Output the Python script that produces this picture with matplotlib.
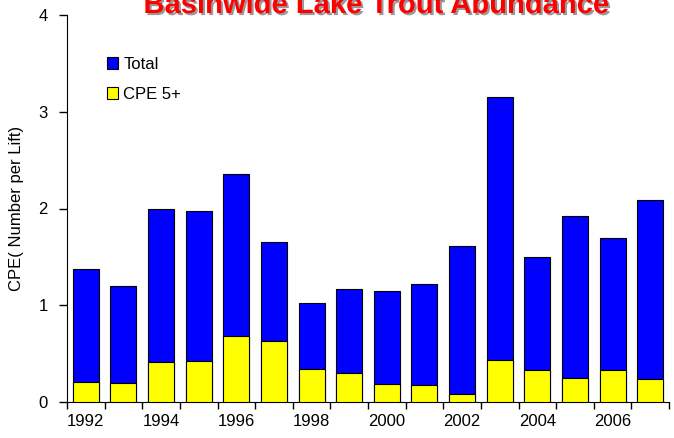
import matplotlib
matplotlib.use("Agg")
import matplotlib.pyplot as plt
import matplotlib.patheffects as pe
import numpy as np

plt.rcParams['font.family'] = ['Liberation Sans', 'DejaVu Sans']

years = [1992, 1993, 1994, 1995, 1996, 1997, 1998, 1999,
         2000, 2001, 2002, 2003, 2004, 2005, 2006, 2007]
total = [1.37, 1.20, 2.00, 1.97, 2.36, 1.65, 1.02, 1.17,
         1.15, 1.22, 1.61, 3.15, 1.50, 1.92, 1.69, 2.09]
cpe5 = [0.21, 0.20, 0.41, 0.42, 0.68, 0.63, 0.34, 0.30,
        0.19, 0.18, 0.08, 0.43, 0.33, 0.25, 0.33, 0.24]
year_labels = [str(y) if i % 2 == 0 else '' for i, y in enumerate(years)]

fig = plt.figure(figsize=(6.74, 4.38), dpi=100)
ax = fig.add_axes([67/674, 1-402/438, (669-67)/674, (402-15)/438])

x = np.arange(len(years))
w = 0.69
ax.bar(x, total, width=w, color='#0000FF', edgecolor='black', linewidth=0.8, label='Total', zorder=2)
ax.bar(x, cpe5, width=w, color='#FFFF00', edgecolor='black', linewidth=0.8, label='CPE 5+', zorder=3)

ax.set_xlim(-0.5, len(years) - 0.5)
ax.set_ylim(0, 4)
ax.set_yticks([0, 1, 2, 3, 4])
ax.set_xticks(x)
ax.set_xticklabels(year_labels)
ax.set_xticks(np.arange(-0.5, len(years), 1.0), minor=True)
ax.tick_params(axis='x', which='major', length=0, pad=9, labelsize=12)
ax.tick_params(axis='x', which='minor', length=5, width=1, direction='out')
ax.tick_params(axis='y', length=6, width=1, direction='out', labelsize=12, pad=8)
for s in ['top', 'right']:
    ax.spines[s].set_visible(False)
ax.set_ylabel('CPE( Number per Lift)', fontsize=12, labelpad=10)

leg = ax.legend(loc='upper left', bbox_to_anchor=(100/674, 1-50/438), bbox_transform=fig.transFigure,
                frameon=False, fontsize=12, handlelength=0.7, handleheight=0.7,
                handletextpad=0.3, labelspacing=0.9, borderaxespad=0)

t = fig.text(376/674, 1-13/438, 'Basinwide Lake Trout Abundance', color='#FF0000',
             fontsize=21, fontweight='bold', ha='center', va='baseline')
t.set_path_effects([pe.SimplePatchShadow(offset=(1.5, -1.5), shadow_rgbFace='#808080', alpha=0.8), pe.Normal()])

fig.savefig('out.png', dpi=100)
